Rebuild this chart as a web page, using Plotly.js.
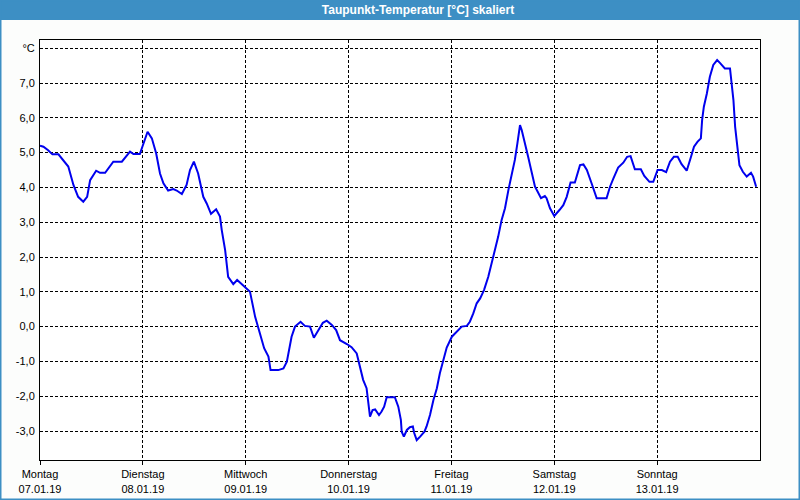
<!DOCTYPE html>
<html>
<head>
<meta charset="utf-8">
<script src="https://cdn.plot.ly/plotly-3.0.1.min.js"></script>
<style>html,body{margin:0;padding:0;background:#fcfdfc;}#chart{width:800px;height:500px;}</style>
</head>
<body>
<div id="chart"></div>
<script>
// hours since Montag 07.01.19 00:00
const hours = [0,0.8,1.9,2.9,4.3,5.4,6.6,7.8,8.9,10.1,11.0,11.7,13.1,14.0,15.2,17.1,19.1,21.0,21.8,23.3,
25.1,26.1,27.1,28.0,28.8,29.9,31.1,31.9,33.1,34.2,35.0,35.9,36.9,38.1,38.9,39.9,41.1,42.0,42.4,43.2,43.9,45.1,46.0,47.1,
49.0,49.4,50.2,51.3,52.3,53.3,53.8,55.6,56.8,57.6,58.7,59.5,60.8,61.8,63.0,63.9,64.9,66.0,66.9,68.1,69.1,70.0,71.6,
72.7,73.9,74.7,75.4,76.2,76.6,77.0,77.6,78.2,79.1,79.7,80.3,80.9,82.8,83.6,84.2,84.4,84.9,85.6,86.3,87.0,87.3,87.9,88.7,89.7,90.2,91.0,91.8,92.6,93.3,94.1,94.9,
96.1,97.2,98.4,99.6,100.3,101.1,101.9,102.7,103.6,104.6,105.8,106.9,107.7,108.5,109.3,110.1,110.8,111.4,112.0,112.4,113.2,113.9,114.7,115.5,116.1,116.9,117.8,118.2,119.0,
120.0,121.2,122.1,122.9,123.8,124.8,126.0,126.8,127.6,128.7,129.9,132.2,133.0,133.8,134.9,136.1,137.0,137.8,138.8,140.2,141.0,142.2,143.1,
144.1,145.1,146.1,147.0,147.9,148.8,149.7,150.9,151.8,152.6,153.4,154.2,154.5,154.9,155.6,156.3,157.1,158.0,158.7,159.8,161.0,161.4,161.8,162.2,162.6,163.2,164.0,164.9,165.9,166.4,167.1];
const dewpoint = [5.20,5.17,5.07,4.95,4.95,4.79,4.60,4.07,3.73,3.59,3.73,4.21,4.48,4.42,4.42,4.74,4.74,5.03,4.96,4.96,
5.60,5.41,4.98,4.40,4.12,3.91,3.95,3.91,3.81,4.07,4.50,4.74,4.40,3.73,3.54,3.24,3.37,3.16,2.78,2.20,1.43,1.22,1.34,1.22,
1.00,0.76,0.28,-0.19,-0.62,-0.86,-1.25,-1.25,-1.20,-1.01,-0.29,0.00,0.14,0.02,0.00,-0.32,-0.10,0.11,0.17,0.05,-0.10,-0.39,-0.50,
-0.59,-0.77,-1.15,-1.53,-1.77,-2.11,-2.59,-2.40,-2.38,-2.54,-2.44,-2.30,-2.03,-2.03,-2.30,-2.68,-3.02,-3.16,-2.97,-2.89,-2.87,-3.05,-3.26,-3.16,-3.02,-2.87,-2.54,-2.11,-1.77,-1.34,-0.96,-0.60,
-0.29,-0.15,0.00,0.02,0.14,0.38,0.67,0.81,1.05,1.43,2.01,2.58,3.06,3.40,3.93,4.40,4.79,5.27,5.79,5.65,5.27,4.88,4.45,4.02,3.88,3.69,3.75,3.69,3.40,
3.18,3.35,3.49,3.73,4.14,4.14,4.64,4.66,4.50,4.12,3.69,3.69,4.02,4.26,4.57,4.71,4.88,4.90,4.52,4.52,4.33,4.16,4.16,
4.50,4.50,4.44,4.74,4.88,4.88,4.67,4.48,4.84,5.17,5.31,5.41,5.94,6.32,6.70,7.18,7.52,7.66,7.57,7.42,7.42,6.99,6.51,5.74,5.27,4.64,4.45,4.31,4.42,4.31,4.02];

const dayNames = ["Montag","Dienstag","Mittwoch","Donnerstag","Freitag","Samstag","Sonntag"];
const dayDates = ["07.01.19","08.01.19","09.01.19","10.01.19","11.01.19","12.01.19","13.01.19"];
const dayHours = [0,24,48,72,96,120,144];
const yTickVals = [-3,-2,-1,0,1,2,3,4,5,6,7,8];
const yTickText = ["-3,0","-2,0","-1,0","0,0","1,0","2,0","3,0","4,0","5,0","6,0","7,0","°C"];

const font = {family:"Liberation Sans, Arial, sans-serif", size:11, color:"#000"};

const trace = {x:hours, y:dewpoint, type:"scatter", mode:"lines",
  line:{color:"#0000ee", width:2}, hoverinfo:"skip"};

const layout = {
  width:800, height:500,
  margin:{l:40, r:40, t:40, b:40},
  paper_bgcolor:"#fcfdfc", plot_bgcolor:"#ffffff",
  showlegend:false, font:font,
  title:{text:"<b>Taupunkt-Temperatur [°C] skaliert</b>", x:0.525, xanchor:"center", xref:"paper",
    y:0.98, yanchor:"middle", yref:"container",
    font:{family:"Liberation Sans, Arial, sans-serif", size:12, color:"#ffffff"}},
  xaxis:{range:[0,168], tickvals:dayHours,
    ticktext:dayNames.map((d,i)=>d+"<br>"+dayDates[i]),
    ticks:"outside", ticklen:4, tickcolor:"#000", tickwidth:1,
    showgrid:true, gridcolor:"#000", griddash:"3px,2px", gridwidth:1,
    showline:true, linecolor:"#000", linewidth:1, mirror:true, zeroline:false,
    tickfont:font, fixedrange:true},
  yaxis:{range:[-3.833,8.236], tickvals:yTickVals, ticktext:yTickText,
    ticks:"", showgrid:true, gridcolor:"#000", griddash:"3px,2px", gridwidth:1,
    showline:true, linecolor:"#000", linewidth:1, mirror:true, zeroline:false,
    ticklabelstandoff:2, tickfont:font, fixedrange:true},
  shapes:[
    {type:"rect", xref:"paper", yref:"paper", x0:-40/720, x1:1+40/720, y0:1+20/420, y1:1+40/420,
      fillcolor:"#3d8fc4", line:{width:0}, layer:"below"},
    {type:"rect", xref:"paper", yref:"paper", x0:-40/720, x1:1+40/720, y0:-40/420, y1:1+40/420,
      fillcolor:"rgba(0,0,0,0)", line:{color:"#3d8fc4", width:3}}
  ]
};

Plotly.newPlot("chart", [trace], layout, {staticPlot:true, displayModeBar:false});
</script>
</body>
</html>
